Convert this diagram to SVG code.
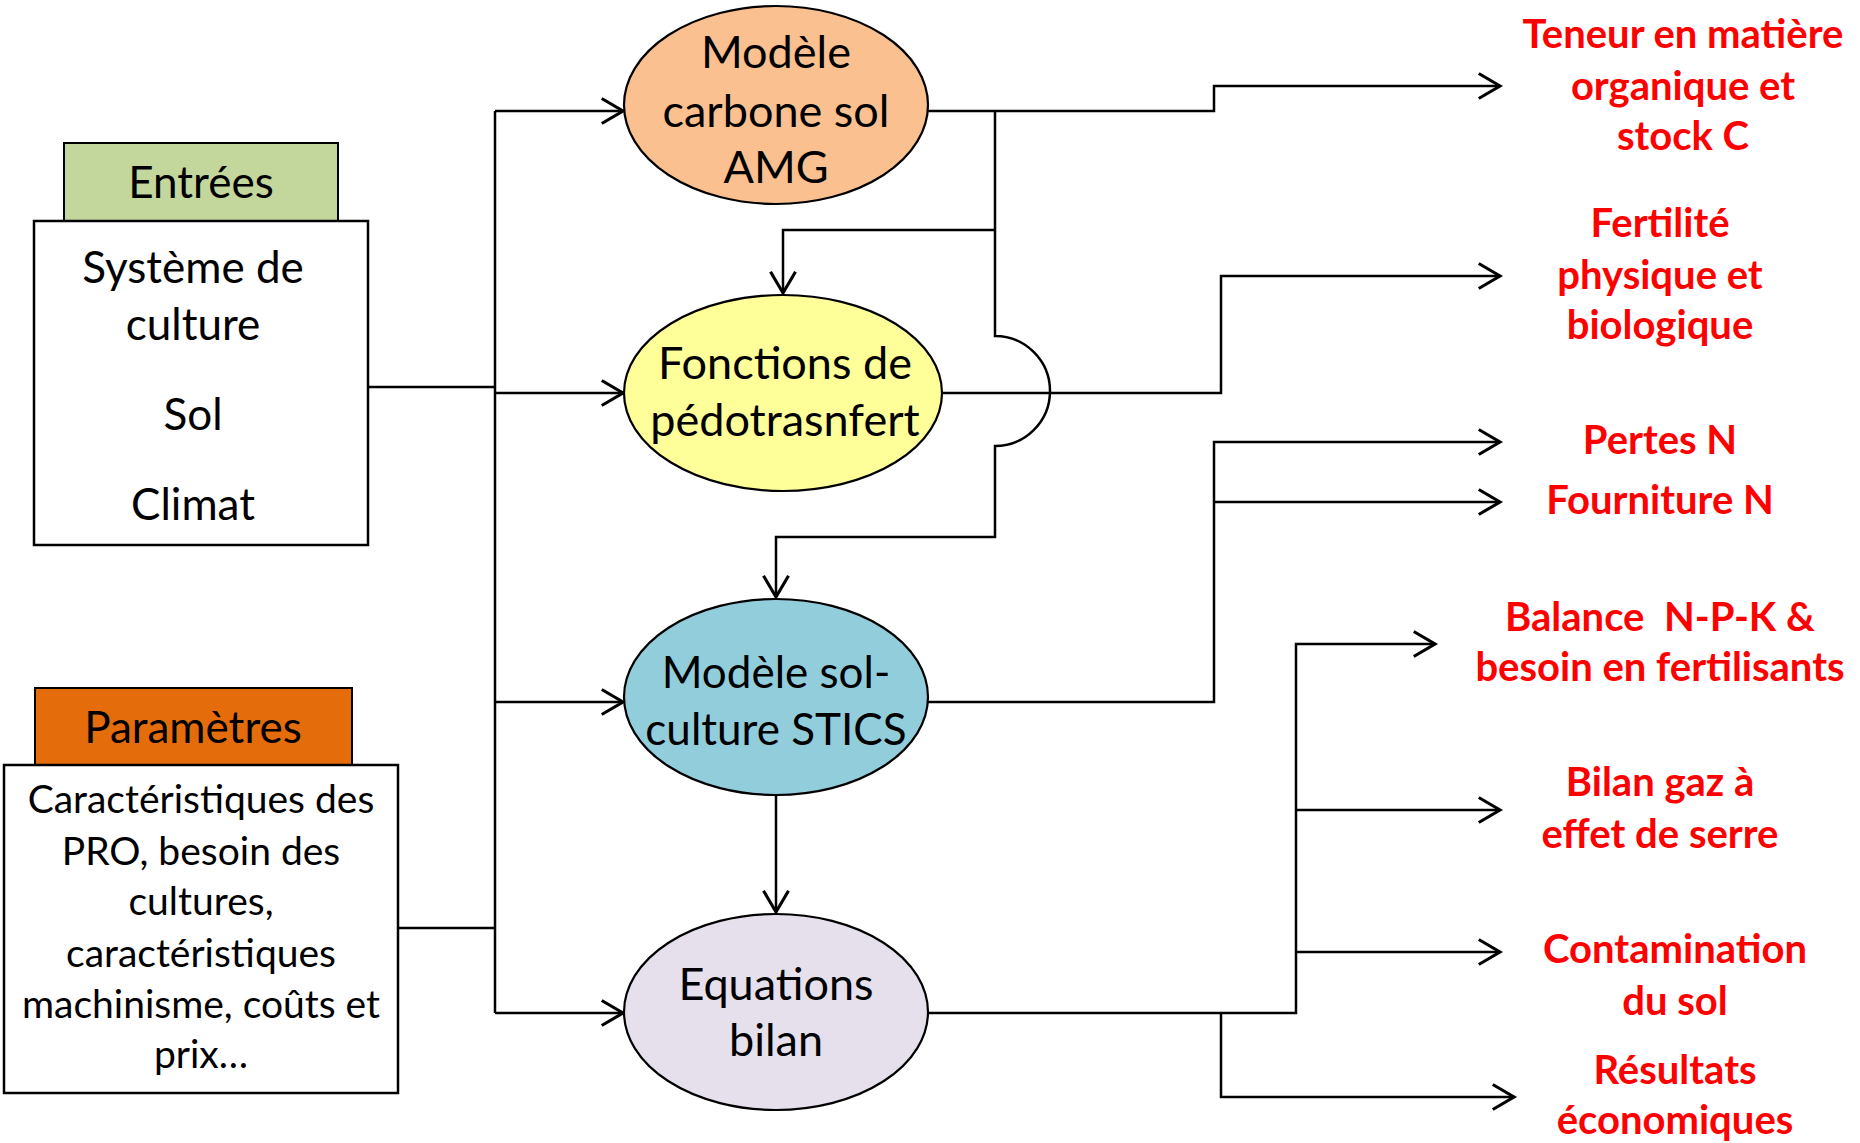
<svg xmlns="http://www.w3.org/2000/svg" width="1860" height="1143" viewBox="0 0 1860 1143">
<style>
.bg{fill:#ffffff}
.box{fill:#ffffff;stroke:#000;stroke-width:2.5}
.lbl{stroke:#000;stroke-width:2}
.ell{stroke:#000;stroke-width:2.2}
.t{font-family:Lato,"Open Sans","Liberation Sans",sans-serif;fill:#000;text-anchor:middle}
.r{font-family:Lato,"Open Sans","Liberation Sans",sans-serif;font-weight:bold;fill:#ff0000;text-anchor:middle;font-size:40px}
.c{fill:none;stroke:#000;stroke-width:2.5}
.a{fill:none;stroke:#000;stroke-width:2.5;marker-end:url(#arr)}
</style>
<defs>
<marker id="arr" markerUnits="userSpaceOnUse" markerWidth="30" markerHeight="30" refX="0" refY="0" orient="auto" overflow="visible" viewBox="-20 -12 22 24">
<path d="M-17,-10 L0,0 L-17,10" fill="none" stroke="#000" stroke-width="2.5"/>
</marker>
</defs>
<rect class="bg" x="0" y="0" width="1860" height="1143"/>

<g id="connectors">
<path class="c" d="M368,387 H495"/>
<path class="c" d="M398,928 H495"/>
<path class="c" d="M495,111 V1013"/>
<path class="a" d="M495,111 H623"/>
<path class="a" d="M495,393 H623"/>
<path class="a" d="M495,702 H623"/>
<path class="a" d="M495,1013 H623"/>
<path class="a" d="M928,111 H1214 V86 H1500"/>
<path class="a" d="M995,111 V336 A55,55 0 0 1 995,446 V537 H776 V597"/>
<path class="a" d="M995,230 H783 V293"/>
<path class="a" d="M942,393 H1221 V276 H1500"/>
<path class="a" d="M928,702 H1214 V442 H1500"/>
<path class="a" d="M1214,502 H1500"/>
<path class="a" d="M776,795 V912"/>
<path class="a" d="M928,1013 H1296 V644 H1435"/>
<path class="a" d="M1296,810 H1500"/>
<path class="a" d="M1296,952 H1500"/>
<path class="a" d="M1221,1013 V1097 H1514"/>
</g>

<g id="entrees">
<rect class="lbl" x="64" y="143" width="274" height="78" fill="#c3d69b"/>
<text class="t" x="201" y="198" font-size="44">Entrées</text>
</g>
<g id="entrees-box">
<rect class="box" x="34" y="221" width="334" height="324"/>
<text class="t" x="193" y="283" font-size="44">Système de</text>
<text class="t" x="193" y="340" font-size="44">culture</text>
<text class="t" x="193" y="430" font-size="44">Sol</text>
<text class="t" x="193" y="520" font-size="44">Climat</text>
</g>

<g id="parametres">
<rect class="lbl" x="35" y="688" width="317" height="78" fill="#e46c0a"/>
<text class="t" x="193" y="743" font-size="44">Paramètres</text>
</g>
<g id="parametres-box">
<rect class="box" x="4" y="765" width="394" height="328"/>
<text class="t" x="201" y="813" font-size="39">Caractéristiques des</text>
<text class="t" x="201" y="865" font-size="39">PRO, besoin des</text>
<text class="t" x="201" y="915" font-size="39">cultures,</text>
<text class="t" x="201" y="967" font-size="39">caractéristiques</text>
<text class="t" x="201" y="1018" font-size="39">machinisme, coûts et</text>
<text class="t" x="201" y="1068" font-size="39">prix…</text>
</g>

<g id="amg">
<ellipse class="ell" cx="776" cy="105" rx="152" ry="99" fill="#fac090"/>
<text class="t" x="776" y="68" font-size="45">Modèle</text>
<text class="t" x="776" y="127" font-size="45">carbone sol</text>
<text class="t" x="776" y="183" font-size="45">AMG</text>
</g>

<g id="pedotransfert">
<ellipse class="ell" cx="783" cy="393" rx="159" ry="98" fill="#ffff99"/>
<text class="t" x="785" y="379" font-size="45">Fonctions de</text>
<text class="t" x="785" y="436" font-size="45">pédotrasnfert</text>
</g>

<g id="stics">
<ellipse class="ell" cx="776" cy="697" rx="152" ry="98" fill="#92cddc"/>
<text class="t" x="776" y="688" font-size="44">Modèle sol-</text>
<text class="t" x="776" y="745" font-size="44">culture STICS</text>
</g>

<g id="bilan">
<ellipse class="ell" cx="776" cy="1012" rx="152" ry="98" fill="#e5e0ec"/>
<text class="t" x="776" y="1000" font-size="45">Equations</text>
<text class="t" x="776" y="1056" font-size="45">bilan</text>
</g>

<g id="out-mo">
<text class="r" x="1683" y="48">Teneur en matière</text>
<text class="r" x="1683" y="100">organique et</text>
<text class="r" x="1683" y="150">stock C</text>
</g>
<g id="out-fertilite">
<text class="r" x="1660" y="237">Fertilité</text>
<text class="r" x="1660" y="289">physique et</text>
<text class="r" x="1660" y="339">biologique</text>
</g>
<g id="out-pertes">
<text class="r" x="1660" y="454">Pertes N</text>
</g>
<g id="out-fourniture">
<text class="r" x="1660" y="514">Fourniture N</text>
</g>
<g id="out-balance">
<text class="r" x="1660" y="631" xml:space="preserve">Balance  N-P-K &amp;</text>
<text class="r" x="1660" y="681">besoin en fertilisants</text>
</g>
<g id="out-gaz">
<text class="r" x="1660" y="796">Bilan gaz à</text>
<text class="r" x="1660" y="848">effet de serre</text>
</g>
<g id="out-contamination">
<text class="r" x="1675" y="963">Contamination</text>
<text class="r" x="1675" y="1015">du sol</text>
</g>
<g id="out-economiques">
<text class="r" x="1675" y="1084">Résultats</text>
<text class="r" x="1675" y="1134">économiques</text>
</g>
</svg>
